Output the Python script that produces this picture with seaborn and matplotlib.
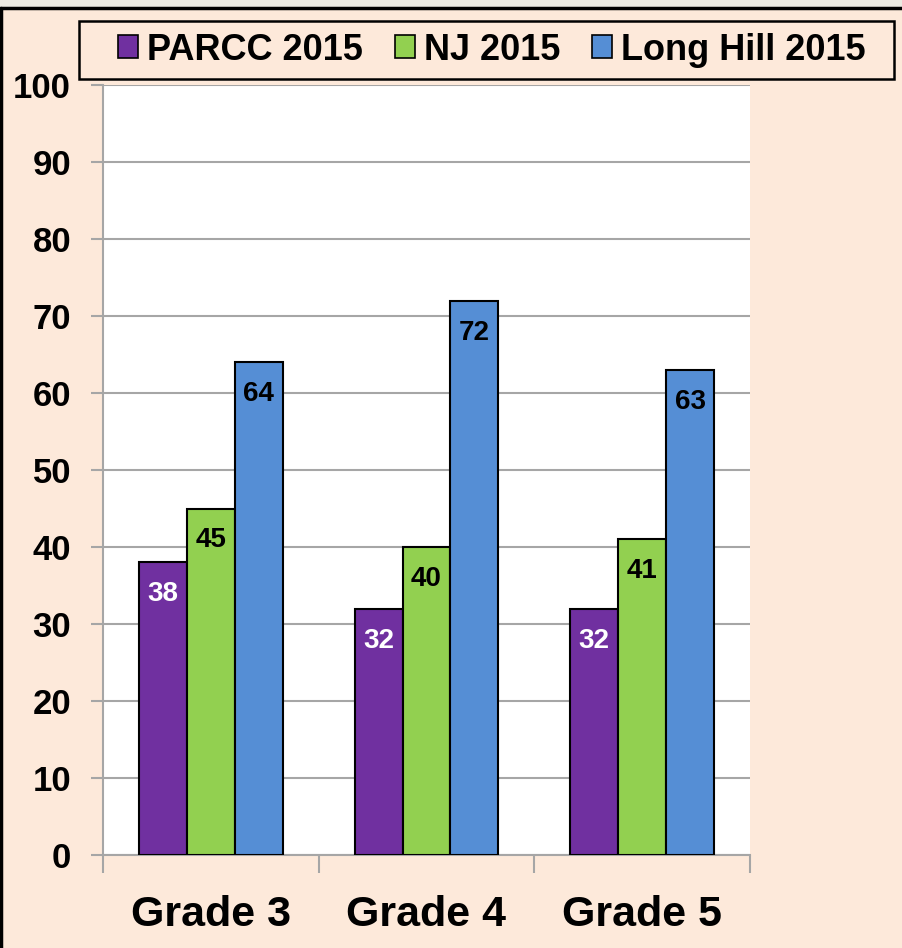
import matplotlib
matplotlib.use("Agg")
import matplotlib.pyplot as plt
import seaborn as sns
import pandas as pd
from matplotlib.patches import Rectangle
from matplotlib.lines import Line2D

grades = ["Grade 3", "Grade 4", "Grade 5"]
series = ["PARCC 2015", "NJ 2015", "Long Hill 2015"]
parcc = [38, 32, 32]
nj = [45, 40, 41]
long_hill = [64, 72, 63]
colors = ["#7030A0", "#92D050", "#558ED5"]
label_colors = ["white", "black", "black"]
yticks = [0, 10, 20, 30, 40, 50, 60, 70, 80, 90, 100]

rows = []
for s, vals in zip(series, [parcc, nj, long_hill]):
    for g, v in zip(grades, vals):
        rows.append({"Grade": g, "Series": s, "Value": v})
df = pd.DataFrame(rows)

sns.set_theme(style="white")
plt.rcParams["font.family"] = ["Liberation Sans", "DejaVu Sans"]
plt.rcParams["text.color"] = "black"

W, H = 902, 948
fig = plt.figure(figsize=(W / 100, H / 100), dpi=100)
bg = "#FDE9DA"
fig.patch.set_facecolor(bg)

# top strip and borders
fig.patches.append(Rectangle((0, 1 - 7 / H), 1, 7 / H, transform=fig.transFigure,
                             facecolor="#ECEAE2", edgecolor="none", zorder=0))
fig.lines.append(Line2D([0, 1], [1 - 8 / H, 1 - 8 / H], transform=fig.transFigure,
                        color="black", lw=2.5))
fig.lines.append(Line2D([1 / W, 1 / W], [0, 1 - 8 / H], transform=fig.transFigure,
                        color="black", lw=2.5))

ax = fig.add_axes([103 / W, 1 - 855 / H, (750 - 103) / W, (855 - 85) / H])
ax.set_facecolor("white")

sns.barplot(data=df, x="Grade", y="Value", hue="Series", hue_order=series,
            order=grades, palette=colors, width=2 / 3, edgecolor="black",
            linewidth=1.5, saturation=1, ax=ax, legend=False, zorder=3)

ax.set_ylim(0, 100)
ax.set_xlim(-0.5, 2.5)
ax.set_yticks(yticks)
ax.yaxis.grid(True, color="#A6A6A6", lw=1.5, zorder=0)
ax.set_axisbelow(True)
ax.set_xlabel("")
ax.set_ylabel("")
for sp in ["top", "right"]:
    ax.spines[sp].set_visible(False)
for sp in ["left", "bottom"]:
    ax.spines[sp].set_color("#A6A6A6")
    ax.spines[sp].set_linewidth(1.5)

ax.tick_params(axis="y", which="major", length=9, width=1.5, color="#A6A6A6",
               direction="out", left=True, labelsize=25, pad=14, labelcolor="black")
for t in ax.get_yticklabels():
    t.set_fontweight("bold")
ax.set_xticks([0, 1, 2])
ax.set_xticklabels(grades, fontsize=31, fontweight="bold", color="black")
ax.tick_params(axis="x", which="major", length=0, pad=29)
ax.set_xticks([-0.5, 0.5, 1.5, 2.5], minor=True)
ax.tick_params(axis="x", which="minor", length=13, width=1.5, color="#A6A6A6",
               direction="out", bottom=True)

# data labels
for cont, vals, lc in zip(ax.containers, [parcc, nj, long_hill], label_colors):
    for patch, v in zip(cont.patches, vals):
        ax.annotate(f"{v}", (patch.get_x() + patch.get_width() / 2, v),
                    xytext=(0, -23), textcoords="offset points",
                    ha="center", va="center", fontsize=20, fontweight="bold",
                    color=lc, zorder=5)

# legend frame
fig.patches.append(Rectangle((79 / W, 1 - 79 / H), (894 - 79) / W, 58 / H,
                             transform=fig.transFigure, facecolor=bg,
                             edgecolor="black", lw=1.8, zorder=1))
handles = [Rectangle((0, 0), 1, 1, facecolor=c, edgecolor="black", lw=1.2)
           for c in colors]
leg = fig.legend(handles, series, loc="center",
                 bbox_to_anchor=(118 / W, 1 - 50 / H - 0.5 / H, (866 - 118) / W, 1 / H),
                 mode="expand", ncol=3, frameon=False,
                 prop={"weight": "bold", "size": 26},
                 handlelength=0.55, handleheight=0.6, handletextpad=0.25,
                 borderpad=0, borderaxespad=0, fancybox=False)
for t in leg.get_texts():
    t.set_color("black")

fig.savefig("out.png", dpi=100, facecolor=bg)
